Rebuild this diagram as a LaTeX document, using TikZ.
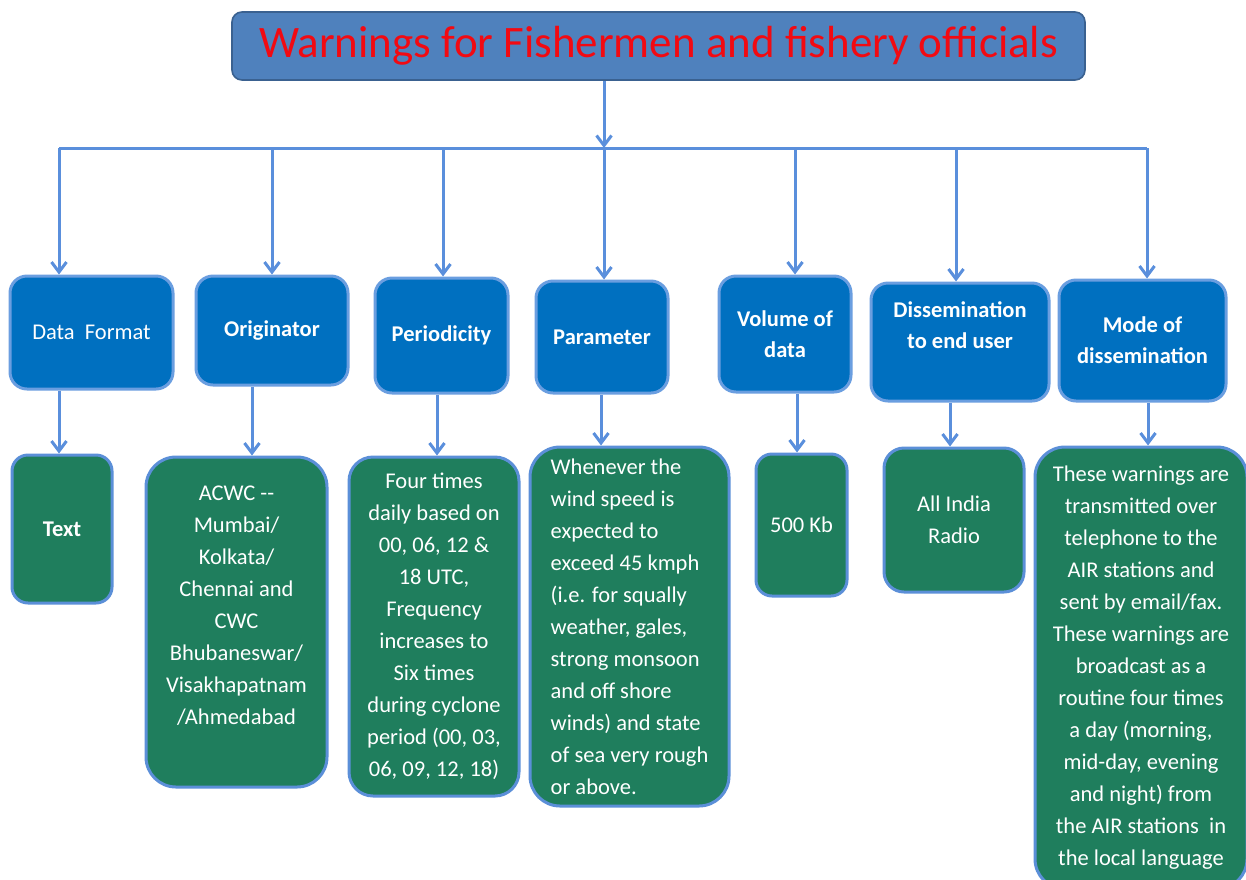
\documentclass[tikz,border=0pt]{standalone}
\usepackage{fontspec}
\setmainfont{Carlito}
\usetikzlibrary{arrows.meta}
\definecolor{titlefill}{HTML}{4F81BD}
\definecolor{titleedge}{HTML}{3A6190}
\definecolor{titletext}{HTML}{F20A12}
\definecolor{bluefill}{HTML}{0070C0}
\definecolor{blueedge}{HTML}{6A9EE0}
\definecolor{greenfill}{HTML}{1F7E5D}
\definecolor{greenedge}{HTML}{5B8FD8}
\definecolor{arrowc}{HTML}{5A8FDC}
\tikzset{
  titlebox/.style={draw=titleedge, line width=1.6pt, fill=titlefill, rounded corners=10pt,
    text=titletext, font=\fontsize{45}{50}\selectfont, inner sep=0pt},
  bluebox/.style={draw=blueedge, line width=3pt, fill=bluefill, rounded corners=17pt,
    text=white, font=\fontsize{22.5}{31}\selectfont\bfseries, align=center, inner sep=0pt},
  bluetext/.style={text=white, font=\fontsize{22.5}{31}\selectfont\bfseries, align=center, inner sep=0pt},
  greenbox/.style={draw=greenedge, line width=3pt, fill=greenfill, rounded corners=24pt,
    text=white, font=\fontsize{22.5}{32}\selectfont, align=center, inner sep=0pt},
  greentext/.style={text=white, font=\fontsize{22.5}{32}\selectfont, align=center, inner sep=0pt},
  arr/.style={draw=arrowc, line width=3pt, -{Straight Barb[length=10pt,width=15pt,line width=3pt]}},
  busline/.style={draw=arrowc, line width=3pt}
}
\begin{document}
\begin{tikzpicture}[x=1pt,y=-1pt]
\useasboundingbox (0,0) rectangle (1246,879);
\clip (0,0) rectangle (1246,879);
\fill[white] (0,0) rectangle (1246,879);

% title
\node[titlebox, minimum width=853, minimum height=68] (T) at (658.5,46) {Warnings for Fishermen and fishery officials};

% category boxes
\node[bluebox, minimum width=163, minimum height=113, font=\fontsize{22.5}{31}\selectfont] (b1) at (91.5,332.5) {Data\ \ Format};
\node[bluebox, minimum width=152, minimum height=109] (b2) at (272,330.5) {Originator};
\node[bluebox, minimum width=133, minimum height=115] (b3) at (441.5,335.5) {Periodicity};
\node[bluebox, minimum width=132, minimum height=112] (b4) at (602,337) {Parameter};
\node[bluebox, minimum width=132, minimum height=116] (b5) at (785,334) {Volume of\\data};
\node[bluebox, minimum width=178, minimum height=118] (b6) at (960,342) {};
\node[bluetext] (b6t) at ([yshift=16.5pt]b6.center) {Dissemination\\to end user};
\node[bluebox, minimum width=167, minimum height=121] (b7) at (1142.5,340.5) {Mode of\\dissemination};

% detail boxes
\node[greenbox, minimum width=100, minimum height=148, rounded corners=16pt, font=\fontsize{22.5}{32}\selectfont\bfseries] (g1) at (62,529) {Text};
\node[greenbox, minimum width=181, minimum height=330, rounded corners=30pt] (g2) at (236.5,622) {};
\node[greentext] (g2t) at ([yshift=16pt]g2.center) {ACWC -{}-\\Mumbai/\\Kolkata/\\Chennai and\\CWC\\Bhubaneswar/\\Visakhapatnam\\/Ahmedabad};
\node[greenbox, minimum width=170, minimum height=339] (g3) at (434,626.5) {Four times\\daily based on\\00, 06, 12 \&\\18 UTC,\\Frequency\\increases to\\Six times\\during cyclone\\period (00, 03,\\06, 09, 12, 18)};
\node[greenbox, minimum width=199, minimum height=359, rounded corners=30pt, align=left] (g4) at (629.5,626.5) {Whenever the\\wind speed is\\expected to\\exceed 45 kmph\\(i.e. for squally\\weather, gales,\\strong monsoon\\and off shore\\winds) and state\\of sea very rough\\or above.};
\node[greenbox, minimum width=91, minimum height=142, rounded corners=16pt] (g5) at (801.5,525) {500 Kb};
\node[greenbox, minimum width=140, minimum height=144, rounded corners=20pt] (g6) at (954,520) {All India\\Radio};
\node[greenbox, minimum width=212, minimum height=442, rounded corners=30pt] (g7) at (1141,668) {These warnings are\\transmitted over\\telephone to the\\AIR stations and\\sent by email/fax.\\These warnings are\\broadcast as a\\routine four times\\a day (morning,\\mid-day, evening\\and night) from\\the AIR stations\ \ in\\the local language};

% bus and drop points
\coordinate (d1) at (59,148);
\coordinate (d2) at (272,148);
\coordinate (d3) at (443,148);
\coordinate (d4) at (604,148);
\coordinate (d5) at (795,148);
\coordinate (d6) at (956,148);
\coordinate (d7) at (1147,148);
\coordinate (s1) at (59,0);
\coordinate (s2) at (252,0);
\coordinate (s3) at (437,0);
\coordinate (s4) at (601,0);
\coordinate (s5) at (797,0);
\coordinate (s6) at (950,0);
\coordinate (s7) at (1148,0);

\draw[arr] (T.south -| d4) -- (d4);
\draw[busline] (d1) -- (d7);
\foreach \i in {1,...,7} {
  \draw[arr] (d\i) -- (d\i |- b\i.north);
  \draw[arr] (b\i.south -| s\i) -- (g\i.north -| s\i);
}
\end{tikzpicture}
\end{document}
